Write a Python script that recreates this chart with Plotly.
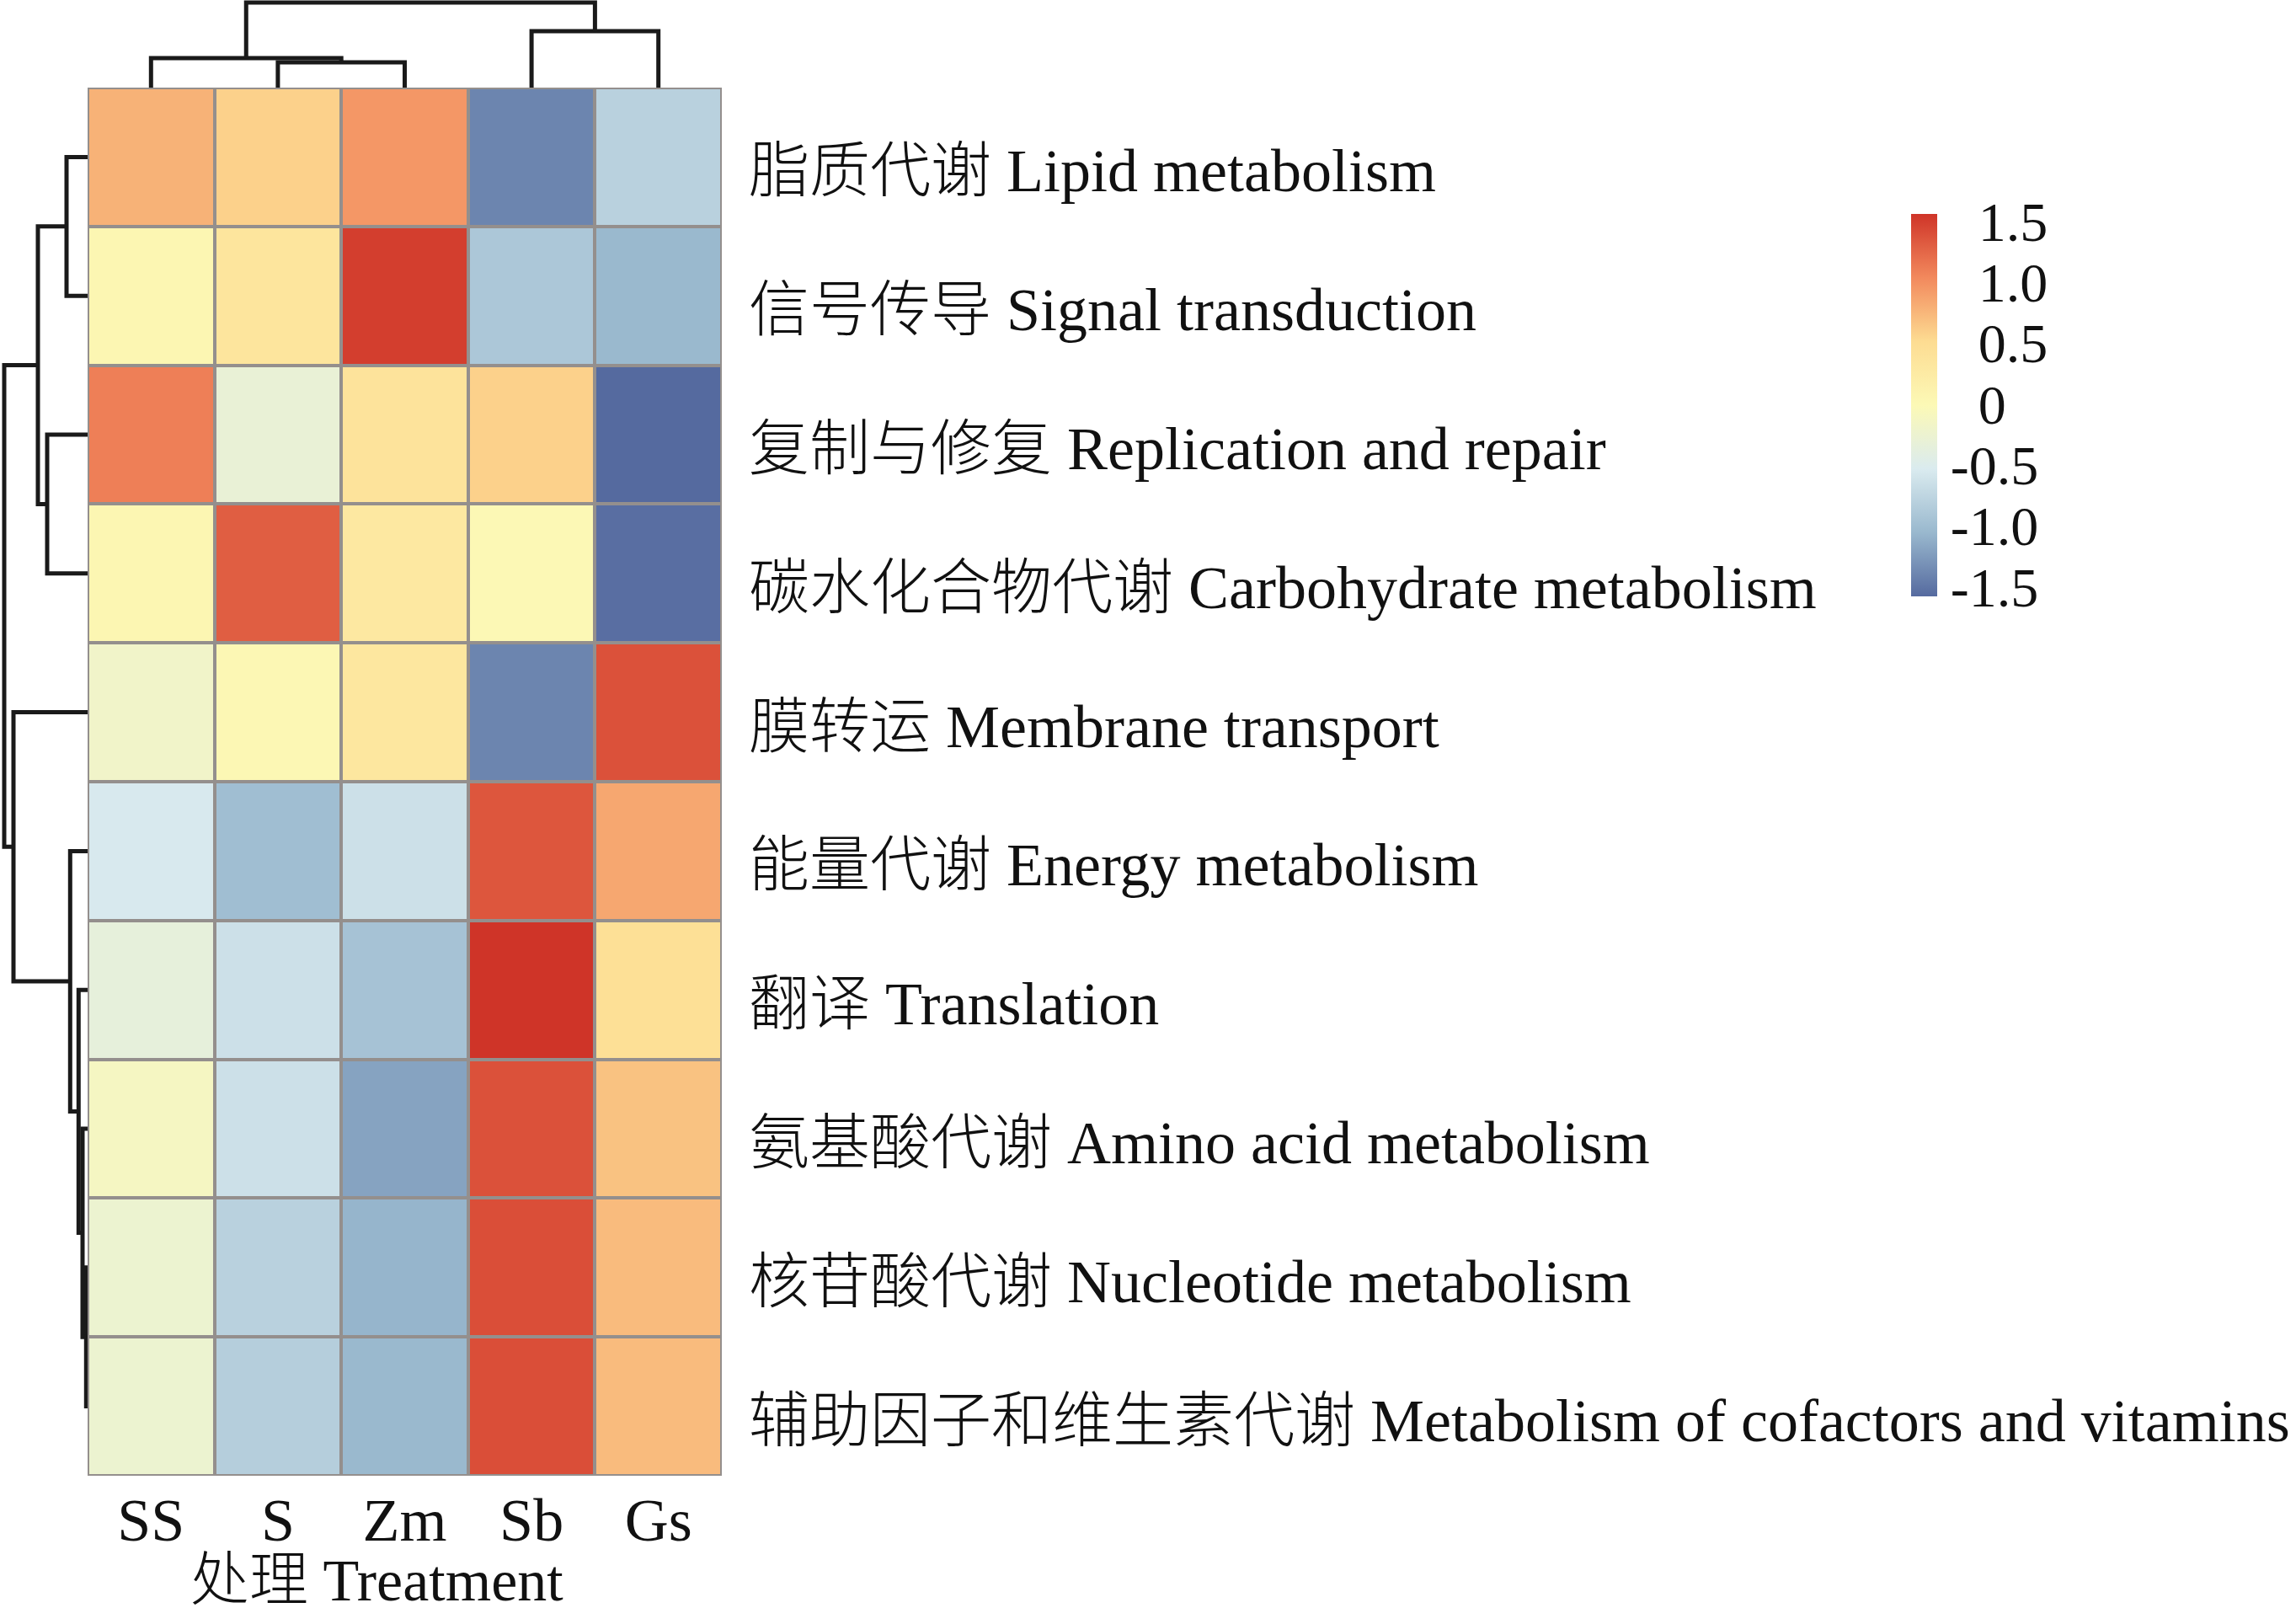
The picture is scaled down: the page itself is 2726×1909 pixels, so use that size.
import plotly.graph_objects as go

# ---------------- data ----------------
treatments = ["SS", "S", "Zm", "Sb", "Gs"]
pathways_cn = ["脂质代谢", "信号传导", "复制与修复", "碳水化合物代谢", "膜转运",
               "能量代谢", "翻译", "氨基酸代谢", "核苷酸代谢", "辅助因子和维生素代谢"]
pathways_en = ["Lipid metabolism", "Signal transduction", "Replication and repair",
               "Carbohydrate metabolism", "Membrane transport", "Energy metabolism",
               "Translation", "Amino acid metabolism", "Nucleotide metabolism",
               "Metabolism of cofactors and vitamins"]
# row z-scores, rows top->bottom, columns SS, S, Zm, Sb, Gs
z_lipid = [0.78, 0.58, 0.95, -1.40, -0.80]
z_signal = [0.05, 0.35, 1.50, -0.90, -1.05]
z_repl = [1.10, -0.30, 0.38, 0.58, -1.58]
z_carbo = [0.05, 1.30, 0.30, 0.00, -1.55]
z_membrane = [-0.18, 0.02, 0.32, -1.40, 1.38]
z_energy = [-0.55, -1.00, -0.65, 1.35, 0.85]
z_transl = [-0.35, -0.65, -0.95, 1.56, 0.45]
z_amino = [-0.12, -0.65, -1.20, 1.38, 0.68]
z_nucl = [-0.25, -0.80, -1.08, 1.40, 0.72]
z_cofac = [-0.25, -0.83, -1.05, 1.40, 0.72]
z_rows = [z_lipid, z_signal, z_repl, z_carbo, z_membrane,
          z_energy, z_transl, z_amino, z_nucl, z_cofac]

# hierarchical clustering merges: (left node, right node, height); leaves are 0..n-1
col_merges = [(1, 2, 0.30), (0, 5, 0.35), (3, 4, 0.67), (6, 7, 1.01)]
row_merges = [(0, 1, 0.25), (2, 3, 0.48), (10, 11, 0.59), (8, 9, 0.017),
              (7, 13, 0.06), (6, 14, 0.107), (5, 15, 0.207), (4, 16, 0.88),
              (12, 17, 0.99)]

cbar_ticks = [1.5, 1.0, 0.5, 0, -0.5, -1.0, -1.5]
cbar_text = ["\u20021.5", "\u20021.0", "\u20020.5", "\u20020", "-0.5", "-1.0", "-1.5"]
zmin, zmax = -1.58, 1.56

# ---------------- styling ----------------
W, H = 2726, 1909
def fx(p): return p / W
def fy(p): return 1 - p / H

FONT = "Liberation Serif, 'Times New Roman', 'Noto Sans CJK SC', serif"
GRID = "#948F8D"
LINE = "#1a1a1a"

colorscale = [
    [0.0, "#556A9F"], [1/6, "#99B8CE"], [2/6, "#DAEBEF"], [3/6, "#FCF9B6"],
    [4/6, "#FDDC92"], [5/6, "#F2895D"], [1.0, "#CF3428"],
]

def dendro_segments(n, merges):
    pos = {i: float(i) for i in range(n)}
    hgt = {i: 0.0 for i in range(n)}
    a, b = [], []  # a: leaf-axis coords, b: height coords
    for k, (l, r, h) in enumerate(merges):
        node = n + k
        a += [pos[l], pos[l], pos[r], pos[r], None]
        b += [hgt[l], h, h, hgt[r], None]
        pos[node] = (pos[l] + pos[r]) / 2
        hgt[node] = h
    return a, b

fig = go.Figure()

fig.add_trace(go.Heatmap(
    z=z_rows, x=list(range(len(treatments))), y=list(range(len(pathways_en))),
    zmin=zmin, zmax=zmax, colorscale=colorscale, xgap=4, ygap=4,
    hoverinfo="skip",
    colorbar=dict(
        x=fx(2269), xanchor="left", xpad=0,
        y=fy(481), yanchor="middle", ypad=0,
        thickness=31, len=454, lenmode="pixels",
        outlinewidth=0,
        tickvals=cbar_ticks, ticktext=cbar_text,
        ticks="outside", ticklen=3, tickcolor="rgba(0,0,0,0)",
        tickfont=dict(family=FONT, size=66, color="#111"),
    ),
    xaxis="x", yaxis="y",
))

# top (column) dendrogram
ca, cb = dendro_segments(len(treatments), col_merges)
fig.add_trace(go.Scatter(x=ca, y=cb, mode="lines", line=dict(color=LINE, width=5),
                         hoverinfo="skip", showlegend=False, xaxis="x2", yaxis="y2"))
# left (row) dendrogram
ra, rb = dendro_segments(len(pathways_en), row_merges)
fig.add_trace(go.Scatter(x=rb, y=ra, mode="lines", line=dict(color=LINE, width=5),
                         hoverinfo="skip", showlegend=False, xaxis="x3", yaxis="y3"))

hx = [fx(104), fx(857)]
hy = [fy(1752), fy(104)]
nr, nc = len(pathways_en), len(treatments)

fig.update_layout(
    width=W, height=H, margin=dict(l=0, r=0, t=0, b=0),
    paper_bgcolor="white", plot_bgcolor="white", showlegend=False,
    xaxis=dict(domain=hx, range=[-0.5, nc - 0.5], showgrid=False, zeroline=False,
               tickvals=list(range(nc)), ticktext=treatments, ticks="",
               ticklabelstandoff=4,
               tickfont=dict(family=FONT, size=72, color="#111")),
    yaxis=dict(domain=hy, range=[nr - 0.5, -0.5], showgrid=False, zeroline=False,
               showticklabels=False, ticks=""),
    xaxis2=dict(domain=hx, range=[-0.5, nc - 0.5], visible=False),
    yaxis2=dict(domain=[fy(104), 1], range=[0, 1.04], visible=False),
    xaxis3=dict(domain=[0, fx(104)], range=[1.04, 0], visible=False),
    yaxis3=dict(domain=hy, range=[nr - 0.5, -0.5], visible=False),
)

# grey grid behind the heatmap bricks
fig.add_shape(type="rect", xref="x", yref="y", x0=-0.5, x1=nc - 0.5,
              y0=-0.5, y1=nr - 0.5, fillcolor=GRID, line=dict(color=GRID, width=4),
              layer="below")
fig.add_shape(type="rect", xref="x", yref="y", x0=-0.5, x1=nc - 0.5,
              y0=-0.5, y1=nr - 0.5, fillcolor="rgba(0,0,0,0)",
              line=dict(color=GRID, width=4), layer="above")

# row labels
for i, (cn, en) in enumerate(zip(pathways_cn, pathways_en)):
    fig.add_annotation(x=fx(887), xref="paper", xanchor="left", y=i, yref="y",
                       yanchor="middle", yshift=-17, showarrow=False,
                       text=f"{cn} {en}",
                       font=dict(family=FONT, size=72, color="#111", weight=300))

# x-axis title
fig.add_annotation(x=fx(447), xref="paper", xanchor="center", y=0, yref="paper",
                   yanchor="bottom", yshift=-8, showarrow=False, text="处理 Treatment",
                   font=dict(family=FONT, size=70, color="#111", weight=300))

fig.write_html("out.html", config={"displayModeBar": False},
               post_script="document.body.style.margin='0';document.body.style.overflow='hidden';")
